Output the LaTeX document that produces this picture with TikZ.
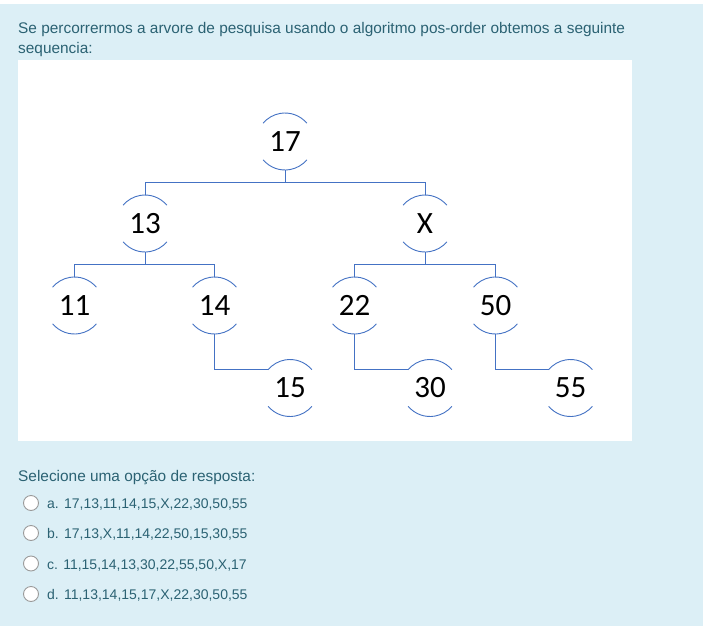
\documentclass[tikz,border=0pt]{standalone}
\usepackage{fontspec}
\setmainfont{Liberation Sans}
\newfontfamily\numfont{Carlito}
\definecolor{panel}{HTML}{DCEFF6}
\definecolor{qtext}{HTML}{2B6273}
\definecolor{tline}{HTML}{4472C4}
\definecolor{radio}{HTML}{9A9A9A}
\tikzset{
  tn/.style={circle,inner sep=0pt,outer sep=0pt,minimum size=57pt,font=\numfont\fontsize{31}{31}\selectfont},
  tl/.style={draw=tline,line width=0.9pt},
  qt/.style={anchor=base west,inner sep=0pt,text=qtext,font=\fontsize{15.4}{18}\selectfont},
  ot/.style={qt,font=\fontsize{14}{17}\selectfont},
  rb/.style={circle,draw=radio,fill=white,line width=0.9pt,minimum size=15pt,inner sep=0pt}
}
\newcommand{\halfarcs}[1]{%
  \draw[tl] (#1.40) arc[start angle=40,end angle=140,radius=28.5pt];
  \draw[tl] (#1.220) arc[start angle=220,end angle=320,radius=28.5pt];}
\begin{document}
\begin{tikzpicture}[x=1pt,y=1pt]
\useasboundingbox (0,0) rectangle (713,-643);
\fill[white] (0,0) rectangle (713,-643);
\fill[panel] (0,-4) rectangle (703,-626);
\fill[white] (18,-60) rectangle (632,-441);
\node[qt] (l1) at (18,-33) {Se percorrermos a arvore de pesquisa usando o algoritmo pos-order obtemos a seguinte};
\node[qt] (l2) at (18,-53) {sequencia:};
% tree nodes
\node[tn] (n17) at (285,-141.5) {17};
\node[tn] (n13) at (145,-223.5) {13};
\node[tn] (nX) at (425,-223.5) {X};
\node[tn] (n11) at (74.5,-305.5) {11};
\node[tn] (n14) at (214.5,-305.5) {14};
\node[tn] (n22) at (354.5,-305.5) {22};
\node[tn] (n50) at (495.5,-305.5) {50};
\node[tn] (n15) at (290,-388) {15};
\node[tn] (n30) at (430,-388) {30};
\node[tn] (n55) at (570.5,-388) {55};
\foreach \n in {n17,n13,nX,n11,n14,n22,n50,n15,n30,n55}{\halfarcs{\n}}
% connectors
\draw[tl] (n17.south) -- ++(0,-12) -| (n13.north);
\draw[tl] (n17.south) -- ++(0,-12) -| (nX.north);
\draw[tl] (n13.south) -- ++(0,-12) -| (n11.north);
\draw[tl] (n13.south) -- ++(0,-12) -| (n14.north);
\draw[tl] (nX.south) -- ++(0,-12) -| (n22.north);
\draw[tl] (nX.south) -- ++(0,-12) -| (n50.north);
\draw[tl] (n14.south) |- (n15.140);
\draw[tl] (n22.south) |- (n30.140);
\draw[tl] (n50.south) |- (n55.140);
% answers
\node[qt] (sel) at (18,-481.5) {Selecione uma opção de resposta:};
\node[rb] (ra) at (31,-503) {};
\node[rb] (rbb) at (31,-533) {};
\node[rb] (rc) at (31,-563.5) {};
\node[rb] (rd) at (31,-594) {};
\node[ot] (oa) at (47,-508.5) {a. 17,13,11,14,15,X,22,30,50,55};
\node[ot] (ob) at (47,-538.5) {b. 17,13,X,11,14,22,50,15,30,55};
\node[ot] (oc) at (47,-569) {c. 11,15,14,13,30,22,55,50,X,17};
\node[ot] (od) at (47,-599.5) {d. 11,13,14,15,17,X,22,30,50,55};
\end{tikzpicture}
\end{document}
